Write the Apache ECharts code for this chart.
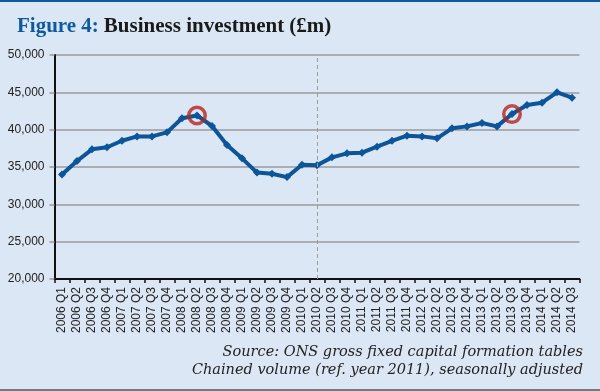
<!DOCTYPE html>
<html><head><meta charset="utf-8">
<script src="https://cdn.jsdelivr.net/npm/echarts@6/dist/echarts.min.js"></script>
<style>html,body{margin:0;padding:0;background:#dce7f5;}#c{width:600px;height:391px;}</style>
</head><body><div id="c"></div>
<script>
const categories = ['2006 Q1','2006 Q2','2006 Q3','2006 Q4','2007 Q1','2007 Q2','2007 Q3','2007 Q4',
'2008 Q1','2008 Q2','2008 Q3','2008 Q4','2009 Q1','2009 Q2','2009 Q3','2009 Q4',
'2010 Q1','2010 Q2','2010 Q3','2010 Q4','2011 Q1','2011 Q2','2011 Q3','2011 Q4',
'2012 Q1','2012 Q2','2012 Q3','2012 Q4','2013 Q1','2013 Q2','2013 Q3','2013 Q4',
'2014 Q1','2014 Q2','2014 Q3'];
const investment = [34000,35800,37370,37640,38520,39100,39100,39640,
41520,41900,40490,37940,36160,34250,34100,33650,
35300,35220,36290,36830,36920,37720,38500,39190,
39100,38840,40180,40440,40890,40440,42090,43300,
43610,45000,44280];
const highlighted = ['2008 Q2','2013 Q3'];
const yTicks = {min:20000,max:50000,interval:5000};
const dividerAt = '2010 Q2';
const titleLead = 'Figure 4:';
const titleText = 'Business investment (£m)';
const sourceLines = ['Source: ONS gross fixed capital formation tables','Chained volume (ref. year 2011), seasonally adjusted'];

const chart = echarts.init(document.getElementById('c'));
const circleData = highlighted.map(c => [c, investment[categories.indexOf(c)]]);
chart.setOption({
  backgroundColor:'#dce7f5',
  animation:false,
  title:{
    left:12, top:11,
    text:'{a|'+titleLead+'} {b|'+titleText+'}',
    textStyle:{rich:{
      a:{fontFamily:'Liberation Serif',fontWeight:'bold',fontSize:21,color:'#0d5a9e'},
      b:{fontFamily:'Liberation Serif',fontWeight:'bold',fontSize:21,color:'#1a1a1a'}
    }}
  },
  grid:{left:54.5,right:20.5,top:55,bottom:112},
  xAxis:{
    type:'category', data:categories, boundaryGap:true,
    axisLine:{lineStyle:{color:'#111',width:2}},
    axisTick:{show:true,length:4,lineStyle:{color:'#111',width:1.5}},
    axisLabel:{rotate:90,interval:0,fontFamily:'Liberation Sans',fontSize:12,color:'#222',margin:8}
  },
  yAxis:{
    type:'value', min:yTicks.min, max:yTicks.max, interval:yTicks.interval,
    axisLine:{show:true,lineStyle:{color:'#111',width:2}},
    axisTick:{show:true,length:5,lineStyle:{color:'#999',width:1.5}},
    splitLine:{lineStyle:{color:'#9a9a9a',width:1.5}},
    axisLabel:{fontFamily:'Liberation Sans',fontSize:12,color:'#222',margin:10,
      formatter:v=>v.toLocaleString('en-GB')}
  },
  series:[{
    type:'line', data:investment, symbol:'diamond', symbolSize:8,
    lineStyle:{color:'#0b5598',width:4},
    itemStyle:{color:'#0b5598'},
    markLine:{silent:true,symbol:'none',label:{show:false},
      lineStyle:{color:'#9a9a9a',type:[4,3],width:1},
      data:[{xAxis:dividerAt}]},
    z:3
  },{
    type:'scatter', data:circleData, symbol:'circle', symbolSize:16.5,
    itemStyle:{color:'rgba(0,0,0,0)',borderColor:'#b3261e',borderWidth:3.5},
    z:4
  }],
  graphic:[
    {type:'rect',left:0,top:0,shape:{width:600,height:2},style:{fill:'#0d5a9e'}},
    {type:'rect',left:0,top:389,shape:{width:600,height:2},style:{fill:'#7a7a7a'}},
    {type:'text',right:17,top:345,style:{text:sourceLines[0],fontFamily:'DejaVu Serif',fontStyle:'italic',fontSize:14.5,fill:'#222',textAlign:'right'}},
    {type:'text',right:17,top:363,style:{text:sourceLines[1],fontFamily:'DejaVu Serif',fontStyle:'italic',fontSize:14.5,fill:'#222',textAlign:'right'}}
  ]
});
</script></body></html>
